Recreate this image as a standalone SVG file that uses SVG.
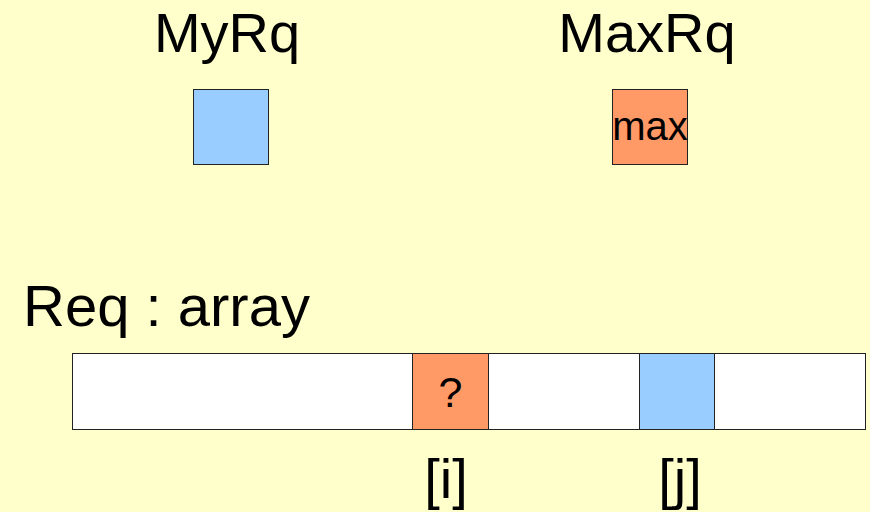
<svg xmlns="http://www.w3.org/2000/svg" width="870" height="512" viewBox="0 0 870 512">
<style>
text{font-family:"Liberation Sans",Arial,sans-serif;fill:#000}
.big{font-size:56px}
.mid{font-size:40px}
.box{stroke:#222;stroke-width:1}
.blue{fill:#99CCFF}
.orange{fill:#FF9966}
.white{fill:#FFFFFF}
</style>
<rect width="870" height="512" fill="#FFFFCC"/>
<g id="myrq">
<text class="big" x="227" y="52" text-anchor="middle">MyRq</text>
<rect class="box blue" x="193.5" y="89.5" width="75" height="75"/>
</g>
<g id="maxrq">
<text class="big" x="647" y="52" text-anchor="middle">MaxRq</text>
<rect class="box orange" x="612.5" y="89.5" width="75" height="75"/>
<text class="mid" x="650" y="140" text-anchor="middle">max</text>
</g>
<g id="req">
<text class="big" x="23" y="326" style="font-size:58px">Req : array</text>
<rect class="box white" x="72.5" y="353.5" width="793" height="76"/>
<rect class="box orange" x="412.5" y="353.5" width="76" height="76"/>
<text class="mid" x="450.5" y="407" text-anchor="middle" style="font-size:43px">?</text>
<rect class="box blue" x="639.5" y="353.5" width="75" height="76"/>
<text class="big" x="446" y="498" text-anchor="middle">[i]</text>
<text class="big" x="680" y="498" text-anchor="middle">[j]</text>
</g>
<g id="connectors"></g>
</svg>
